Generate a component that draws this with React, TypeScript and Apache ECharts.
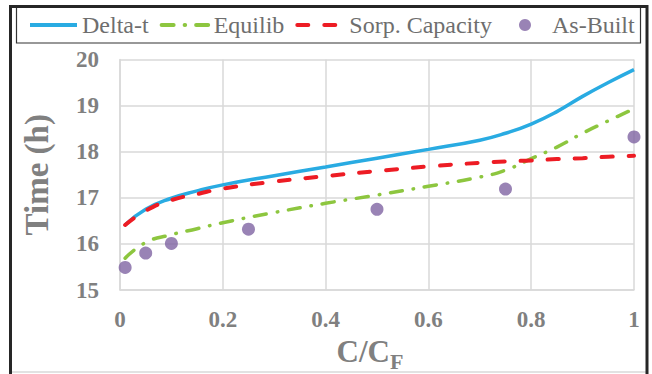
import React, { useEffect, useRef } from "react";
import * as echarts from "echarts";

const xValues = [0.01, 0.05, 0.1, 0.15, 0.2, 0.3, 0.4, 0.5, 0.6, 0.7, 0.75, 0.8, 0.85, 0.9, 0.95, 1.0];
const deltaT = [16.41, 16.75, 16.99, 17.15, 17.28, 17.48, 17.67, 17.86, 18.05, 18.25, 18.4, 18.6, 18.87, 19.2, 19.5, 19.78];
const equilib = [15.69, 16.03, 16.2, 16.33, 16.46, 16.68, 16.88, 17.06, 17.25, 17.45, 17.6, 17.85, 18.1, 18.4, 18.67, 18.93];
const sorpCapacity = [16.41, 16.72, 16.95, 17.08, 17.2, 17.35, 17.47, 17.58, 17.68, 17.76, 17.79, 17.81, 17.84, 17.86, 17.89, 17.91];
const asBuiltX = [0.01, 0.05, 0.1, 0.25, 0.5, 0.75, 1.0];
const asBuiltY = [15.49, 15.8, 16.01, 16.32, 16.75, 17.19, 18.32];

const seriesNames = ["Delta-t", "Equilib", "Sorp. Capacity", "As-Built"];
const FONT = "Liberation Serif";

const pair = (xs: number[], ys: number[]) => xs.map((x, i) => [x, ys[i]]);

export default function App() {
  const ref = useRef<HTMLDivElement>(null);
  useEffect(() => {
    if (!ref.current) return;
    const chart = echarts.init(ref.current, null, { renderer: "svg" });
    const gridColor = "#d9d9d9";
    const tickColor = "#808080";
    const legendText = { fontFamily: FONT, fontSize: 24, color: "#6e6e6e" };
    chart.setOption({
      animation: false,
      backgroundColor: "#ffffff",
      grid: { left: 120, right: 18, top: 59.5, bottom: 84, containLabel: false, outerBoundsMode: "none" },
      legend: [
        {
          left: 28,
          top: 13,
          itemWidth: 47,
          itemHeight: 12,
          itemGap: 11,
          padding: 0,
          data: seriesNames.slice(0, 3).map((n) => ({
            name: n,
            itemStyle: { opacity: 0 },
            lineStyle: { width: 4 },
          })),
          textStyle: legendText,
        },
        {
          left: 519,
          top: 13,
          itemWidth: 12,
          itemHeight: 12,
          padding: 0,
          data: [{ name: seriesNames[3], icon: "circle" }],
          textStyle: { ...legendText, padding: [0, 0, 0, 16] },
        },
      ],
      xAxis: {
        type: "value",
        min: 0,
        max: 1,
        interval: 0.2,
        name: "{a|C/C}{b|F}",
        nameLocation: "middle",
        nameGap: 29,
        nameTextStyle: {
          padding: [0, 14, 0, 0],
          rich: {
            a: { fontFamily: FONT, fontSize: 31, fontWeight: "bold", color: tickColor },
            b: { fontFamily: FONT, fontSize: 22, fontWeight: "bold", color: tickColor, padding: [20, 0, 0, 0] },
          },
        },
        axisLine: { show: true, lineStyle: { color: gridColor, width: 1.5 } },
        axisTick: { show: false },
        splitLine: { show: true, lineStyle: { color: gridColor, width: 1.5 } },
        axisLabel: {
          margin: 18,
          fontFamily: FONT,
          fontSize: 23,
          fontWeight: "bold",
          color: tickColor,
          formatter: (v: number) => String(+v.toFixed(1)),
        },
      },
      yAxis: {
        type: "value",
        min: 15,
        max: 20,
        interval: 1,
        name: "Time (h)",
        nameLocation: "middle",
        nameGap: 67,
        nameTextStyle: { fontFamily: FONT, fontSize: 33, fontWeight: "bold", color: tickColor },
        axisLine: { show: true, lineStyle: { color: gridColor, width: 1.5 } },
        axisTick: { show: false },
        splitLine: { show: true, lineStyle: { color: gridColor, width: 1.5 } },
        axisLabel: { margin: 21, fontFamily: FONT, fontSize: 23, fontWeight: "bold", color: tickColor },
      },
      series: [
        {
          name: seriesNames[0],
          type: "line",
          data: pair(xValues, deltaT),
          symbol: "none",
          smooth: 0.5,
          z: 2,
          lineStyle: { color: "#29abe2", width: 3.5 },
          itemStyle: { color: "#29abe2" },
        },
        {
          name: seriesNames[1],
          type: "line",
          data: pair(xValues, equilib),
          symbol: "none",
          smooth: 0.5,
          z: 3,
          lineStyle: { color: "#8dc63f", width: 3.5, type: [12, 11, 0.5, 11], cap: "round" },
          itemStyle: { color: "#8dc63f" },
        },
        {
          name: seriesNames[2],
          type: "line",
          data: pair(xValues, sorpCapacity),
          symbol: "none",
          smooth: 0.5,
          z: 4,
          lineStyle: { color: "#ed1c24", width: 4, type: [11, 16], cap: "round" },
          itemStyle: { color: "#ed1c24" },
        },
        {
          name: seriesNames[3],
          type: "scatter",
          data: pair(asBuiltX, asBuiltY),
          symbol: "circle",
          symbolSize: 13,
          z: 5,
          itemStyle: { color: "#8064a2" },
        },
      ],
      graphic: [
        {
          type: "rect",
          shape: { x: 16.5, y: 7.5, width: 624, height: 35.5 },
          style: { fill: "none", stroke: "#333333", lineWidth: 1.2 },
          silent: true,
        },
        {
          type: "line",
          shape: { x1: 10, y1: 372, x2: 648, y2: 372 },
          style: { stroke: "#d9d9d9", lineWidth: 1.5 },
          silent: true,
        },
        {
          type: "polyline",
          shape: { points: [[10.5, 374], [10.5, 6.5], [647, 6.5], [647, 374]] },
          style: { fill: "none", stroke: "#262626", lineWidth: 3 },
          silent: true,
        },
      ],
    });
    return () => chart.dispose();
  }, []);
  return (
    <div
      ref={ref}
      style={{ position: "absolute", left: 0, top: 0, width: 652, height: 374 }}
    />
  );
}
